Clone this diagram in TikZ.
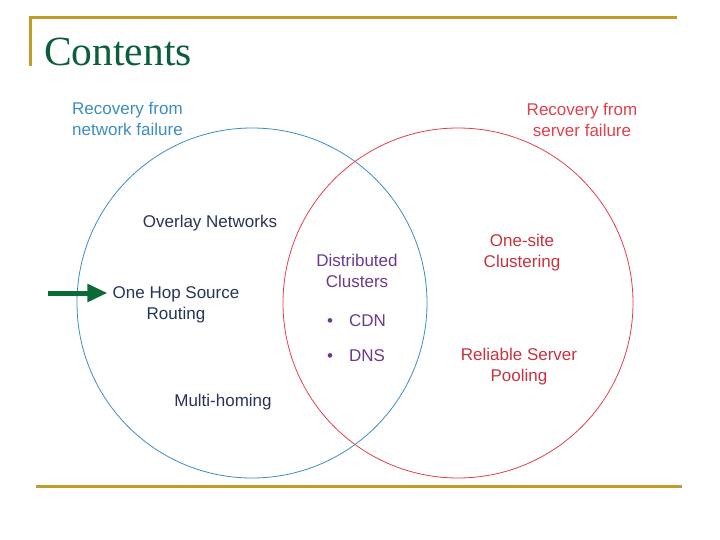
\documentclass[tikz,border=0pt]{standalone}
\usepackage{fontspec}
\setmainfont{Liberation Serif}
\setsansfont{Liberation Sans}
\usepackage{tikz}
\usetikzlibrary{arrows.meta,positioning}
\definecolor{TitleGreen}{HTML}{0B5E3A}
\definecolor{RuleGold}{HTML}{C29B2A}
\definecolor{NetBlue}{HTML}{3B8DC2}
\definecolor{SrvRed}{HTML}{E0404C}
\definecolor{LabelNavy}{HTML}{243556}
\definecolor{LabelRed}{HTML}{C8323E}
\definecolor{MixPurple}{HTML}{6B3A8E}
\definecolor{ArrowGreen}{HTML}{0B6B35}

\begin{document}
\begin{tikzpicture}[x=1pt,y=-1pt,
    lbl/.style={font=\sffamily\fontsize{17}{21}\selectfont,align=center,inner sep=1pt},
    rule/.style={RuleGold,line width=3pt}]
	\useasboundingbox (0,0) rectangle (720,540);
	% title frame
	\draw[rule] (30,66)--(30,18)--(677,18);
	\draw[rule] (36,486)--(682,486);
	\node[anchor=base west,TitleGreen,font=\fontsize{41.5}{44}\selectfont,inner sep=0pt] (title) at (44,66) {Contents};
	% the two sets
	\draw[NetBlue,line width=.8pt] (252,303) circle (175);
	\draw[SrvRed,line width=.8pt] (458,303) circle (175);
	\node[lbl,NetBlue,align=left,anchor=west] (netfail) at (71,119) {Recovery from\\network failure};
	\node[lbl,SrvRed] (srvfail) at (582,119.5) {Recovery from\\server failure};
	\node[lbl,LabelNavy] (overlay) at (210,223) {Overlay Networks};
	\node[lbl,LabelNavy] (hop) at (176,305) {One Hop Source\\Routing};
	\node[lbl,LabelNavy] (multi) at (223,402) {Multi-homing};
	\node[lbl,MixPurple] (dist) at (357,271) {Distributed\\Clusters};
	\node[lbl,MixPurple,anchor=west] (cdn) at (326,321) {\textbullet\hspace{16pt}CDN};
	\node[lbl,MixPurple,anchor=west] (dns) at (326,356) {\textbullet\hspace{16pt}DNS};
	\node[lbl,LabelRed] (onesite) at (522,253) {One-site\\Clustering};
	\node[lbl,LabelRed] (pool) at (519,367) {Reliable Server\\Pooling};
	% pointer
	\coordinate (ptr) at (48,293);
	\draw[ArrowGreen,line width=5pt,-{Triangle[length=20pt,width=17pt]},shorten >=4pt] (ptr)--(ptr-|hop.west);
\end{tikzpicture}
\end{document}
